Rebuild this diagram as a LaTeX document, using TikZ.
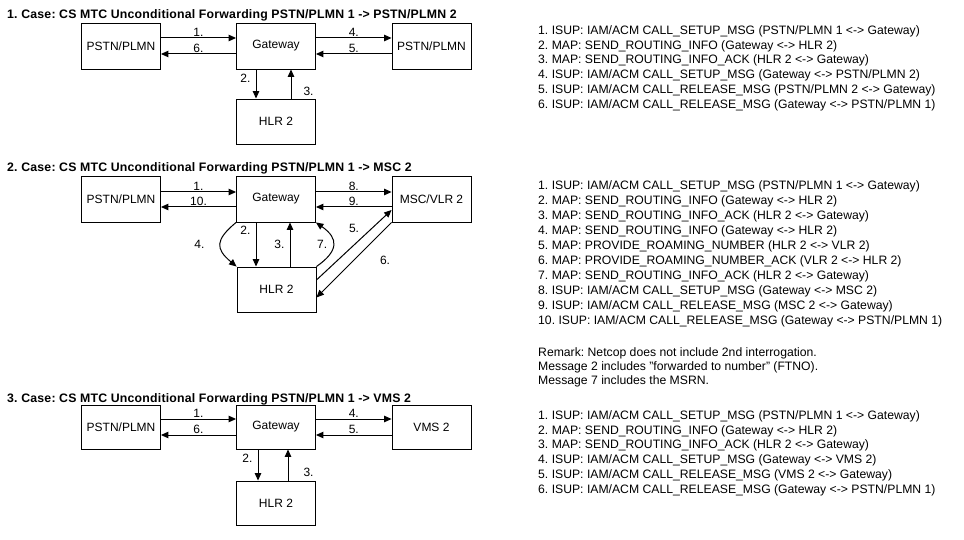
\documentclass[tikz,border=0pt]{standalone}
\usepackage{fontspec}
\setmainfont{Liberation Sans}
\newfontfamily\casetitlefont[LetterSpace=1.7]{Liberation Sans}
\usetikzlibrary{arrows.meta}
\frenchspacing
\begin{document}
\begin{tikzpicture}[x=1pt,y=-1pt,
  box/.style={draw,line width=0.9pt,minimum width=79pt,minimum height=46pt,inner sep=0pt,font=\fontsize{12}{14}\selectfont},
  arr/.style={line width=1pt,-{Triangle[length=7.5pt,width=6.5pt]}},
  lbl/.style={font=\fontsize{12}{14}\selectfont,inner sep=1pt},
  title/.style={anchor=base west,inner sep=0pt,font=\casetitlefont\fontsize{12.3}{14}\selectfont\bfseries},
  txt/.style={anchor=base west,inner sep=0pt,font=\fontsize{12.2}{15}\selectfont}]
\useasboundingbox[fill=white] (0,0) rectangle (964,540);

% ---------- Case 1 ----------
\node[title] (T1) at (7,19) {1. Case: CS MTC Unconditional Forwarding PSTN/PLMN 1 -> PSTN/PLMN 2};
\node[box] (A1) at (121,46) {PSTN/PLMN};
\node[box] (G1) at (276,46) {Gateway};
\node[box] (B1) at (431.5,46) {PSTN/PLMN};
\node[box,minimum height=45pt] (H1) at (276,121.5) {HLR 2};
\draw[arr] ([yshift=8pt]A1.east) -- node[lbl,above] (l11) {1.} ([yshift=8pt]G1.west);
\draw[arr] ([yshift=-8pt]G1.west) -- node[lbl,above] (l16) {6.} ([yshift=-8pt]A1.east);
\draw[arr] ([yshift=8pt]G1.east) -- node[lbl,above] (l14) {4.} ([yshift=8pt]B1.west);
\draw[arr] ([yshift=-8pt]B1.west) -- node[lbl,above] (l15) {5.} ([yshift=-8pt]G1.east);
\draw[arr] ([xshift=-20pt]G1.south) -- node[lbl,pos=0.3,left=4pt] (l12) {2.} ([xshift=-20pt]H1.north);
\draw[arr] ([xshift=15pt]H1.north) -- node[lbl,pos=0.23,right=11pt] (l13) {3.} ([xshift=15pt]G1.south);

\foreach \t [count=\i] in {
  {1. ISUP: IAM/ACM CALL\_SETUP\_MSG (PSTN/PLMN 1 <-> Gateway)},
  {2. MAP: SEND\_ROUTING\_INFO (Gateway <-> HLR 2)},
  {3. MAP: SEND\_ROUTING\_INFO\_ACK (HLR 2 <-> Gateway)},
  {4. ISUP: IAM/ACM CALL\_SETUP\_MSG (Gateway <-> PSTN/PLMN 2)},
  {5. ISUP: IAM/ACM CALL\_RELEASE\_MSG (PSTN/PLMN 2 <-> Gateway)},
  {6. ISUP: IAM/ACM CALL\_RELEASE\_MSG (Gateway <-> PSTN/PLMN 1)}}
  \node[txt] (p1-\i) at (538,{34.3+14.8*(\i-1)}) {\t};

% ---------- Case 2 ----------
\node[title] (T2) at (7,172) {2. Case: CS MTC Unconditional Forwarding PSTN/PLMN 1 -> MSC 2};
\node[box] (A2) at (121,199) {PSTN/PLMN};
\node[box] (G2) at (276,199) {Gateway};
\node[box] (M2) at (431.5,199) {MSC/VLR 2};
\node[box,minimum height=45pt] (H2) at (276.5,289.5) {HLR 2};
\draw[arr] ([yshift=7pt]A2.east) -- node[lbl,above] (l21) {1.} ([yshift=7pt]G2.west);
\draw[arr] ([yshift=-8pt]G2.west) -- node[lbl,above] (l210) {10.} ([yshift=-8pt]A2.east);
\draw[arr] ([yshift=7pt]G2.east) -- node[lbl,above] (l28) {8.} ([yshift=7pt]M2.west);
\draw[arr] ([yshift=-8pt]M2.west) -- node[lbl,above] (l29) {9.} ([yshift=-8pt]G2.east);
\draw[arr] ([xshift=-20pt]G2.south) -- node[lbl,pos=0.18,left=4pt] (l22) {2.} ([xshift=-20pt]G2.south |- H2.north);
\draw[arr] ([xshift=14pt]G2.south |- H2.north) -- node[lbl,pos=0.5,left=4pt] (l23) {3.} ([xshift=14pt]G2.south);
\draw[arr] (G2.south west) to[out=-140,in=140,looseness=1.6] node[lbl,midway,xshift=-21pt] (l24) {4.} (H2.north west);
\draw[arr] (H2.north east) to[out=35,in=-35,looseness=1.6] node[lbl,midway,xshift=-11pt] (l27) {7.} (G2.south east);
\draw[arr] ([yshift=9.5pt]H2.east) -- node[lbl,midway,yshift=17pt] (l25) {5.} ([yshift=-11pt]M2.west);
\draw[arr] (M2.south west) -- node[lbl,midway,xshift=31pt] (l26) {6.} ([yshift=-8pt]H2.east);

\foreach \t [count=\i] in {
  {1. ISUP: IAM/ACM CALL\_SETUP\_MSG (PSTN/PLMN 1 <-> Gateway)},
  {2. MAP: SEND\_ROUTING\_INFO (Gateway <-> HLR 2)},
  {3. MAP: SEND\_ROUTING\_INFO\_ACK (HLR 2 <-> Gateway)},
  {4. MAP: SEND\_ROUTING\_INFO (Gateway <-> HLR 2)},
  {5. MAP: PROVIDE\_ROAMING\_NUMBER (HLR 2 <-> VLR 2)},
  {6. MAP: PROVIDE\_ROAMING\_NUMBER\_ACK (VLR 2 <-> HLR 2)},
  {7. MAP: SEND\_ROUTING\_INFO\_ACK (HLR 2 <-> Gateway)},
  {8. ISUP: IAM/ACM CALL\_SETUP\_MSG (Gateway <-> MSC 2)},
  {9. ISUP: IAM/ACM CALL\_RELEASE\_MSG (MSC 2 <-> Gateway)},
  {10. ISUP: IAM/ACM CALL\_RELEASE\_MSG (Gateway <-> PSTN/PLMN 1)}}
  \node[txt] (p2-\i) at (538,{189.3+15*(\i-1)}) {\t};
\foreach \t [count=\i] in {
  {Remark: Netcop does not include 2nd interrogation.},
  {Message 2 includes "forwarded to number" (FTNO).},
  {Message 7 includes the MSRN.}}
  \node[txt] (r2-\i) at (538,{356+14.2*(\i-1)}) {\t};

% ---------- Case 3 ----------
\node[title] (T3) at (7,402) {3. Case: CS MTC Unconditional Forwarding PSTN/PLMN 1 -> VMS 2};
\node[box,minimum height=44pt] (A3) at (121,427) {PSTN/PLMN};
\node[box,minimum height=44pt] (G3) at (276,427) {Gateway};
\node[box,minimum height=44pt] (V3) at (431.5,427) {VMS 2};
\node[box,minimum height=44pt] (H3) at (276,503) {HLR 2};
\draw[arr] ([yshift=8pt]A3.east) -- node[lbl,above] (l31) {1.} ([yshift=8pt]G3.west);
\draw[arr] ([yshift=-8pt]G3.west) -- node[lbl,above] (l36) {6.} ([yshift=-8pt]A3.east);
\draw[arr] ([yshift=8pt]G3.east) -- node[lbl,above] (l34) {4.} ([yshift=8pt]V3.west);
\draw[arr] ([yshift=-8pt]V3.west) -- node[lbl,above] (l35) {5.} ([yshift=-8pt]G3.east);
\draw[arr] ([xshift=-18pt]G3.south) -- node[lbl,pos=0.28,left=4pt] (l32) {2.} ([xshift=-18pt]H3.north);
\draw[arr] ([xshift=12pt]H3.north) -- node[lbl,pos=0.25,right=14pt] (l33) {3.} ([xshift=12pt]G3.south);

\foreach \t [count=\i] in {
  {1. ISUP: IAM/ACM CALL\_SETUP\_MSG (PSTN/PLMN 1 <-> Gateway)},
  {2. MAP: SEND\_ROUTING\_INFO (Gateway <-> HLR 2)},
  {3. MAP: SEND\_ROUTING\_INFO\_ACK (HLR 2 <-> Gateway)},
  {4. ISUP: IAM/ACM CALL\_SETUP\_MSG (Gateway <-> VMS 2)},
  {5. ISUP: IAM/ACM CALL\_RELEASE\_MSG (VMS 2 <-> Gateway)},
  {6. ISUP: IAM/ACM CALL\_RELEASE\_MSG (Gateway <-> PSTN/PLMN 1)}}
  \node[txt] (p3-\i) at (538,{419.3+14.8*(\i-1)}) {\t};
\end{tikzpicture}
\end{document}
